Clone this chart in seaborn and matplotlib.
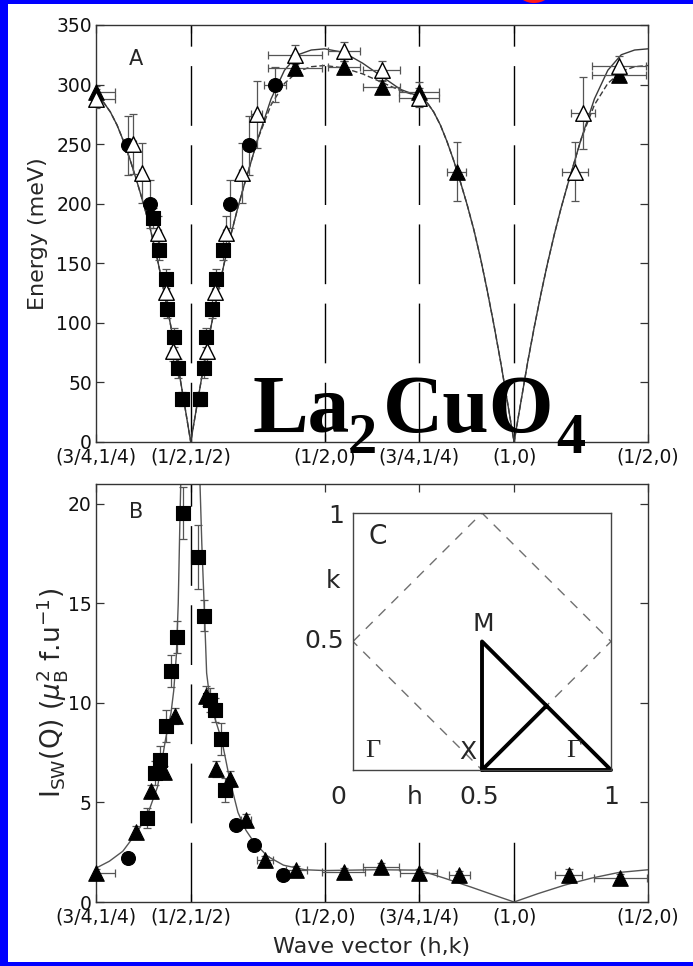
import matplotlib
matplotlib.use("Agg")
import matplotlib.pyplot as plt
import seaborn as sns
from matplotlib.patches import Rectangle, Ellipse

# ---------------- data ----------------
path_ticks = [0.0, 0.3536, 0.8536, 1.2071, 1.5607, 2.0607]
path_labels = ['(3/4,1/4)', '(1/2,1/2)', '(1/2,0)', '(3/4,1/4)', '(1,0)', '(1/2,0)']

# Panel A dispersion curves
curveA_q = [0.0, 0.0286, 0.0536, 0.0786, 0.1036, 0.1286, 0.1536, 0.1786, 0.2036, 0.2286,
            0.2536, 0.2786, 0.3036, 0.3286, 0.3536,
            0.3786, 0.4036, 0.4286, 0.4536, 0.4786, 0.5036, 0.5286, 0.5536, 0.6036, 0.6536,
            0.7036, 0.7536, 0.8036, 0.8536,
            0.9243, 0.995, 1.0657, 1.1364, 1.2071,
            1.2357, 1.2607, 1.2857, 1.3107, 1.3357, 1.3607, 1.3857, 1.4107, 1.4357, 1.4607,
            1.4857, 1.5107, 1.5357, 1.5607,
            1.5857, 1.6107, 1.6357, 1.6607, 1.6857, 1.7107, 1.7357, 1.7607, 1.8107, 1.8607,
            1.9107, 1.9607, 2.0107, 2.0607]
curveA_solid = [290, 285, 277, 266, 252, 236, 218, 199, 178, 154, 127, 98, 67, 34, 0,
                33, 66, 96, 124, 150, 174, 196, 216, 254, 288, 312, 325, 329, 330,
                327, 318, 307, 296, 290,
                285, 277, 266, 252, 236, 218, 199, 178, 154, 127, 98, 67, 34, 0,
                33, 66, 96, 124, 150, 174, 196, 216, 254, 288, 312, 325, 329, 330]
curveA_dashed = [290, 285, 277, 266, 252, 236, 218, 199, 178, 154, 127, 98, 67, 34, 0,
                 33, 66, 96, 124, 150, 174, 196, 216, 254, 283, 301, 311, 315, 316,
                 314, 309, 302, 295, 290,
                 285, 277, 266, 252, 236, 218, 199, 178, 154, 127, 98, 67, 34, 0,
                 33, 66, 96, 124, 150, 174, 196, 216, 254, 283, 301, 311, 315, 316]

# Panel A data
A_tri_open_q = [0.0, 0.139, 0.171, 0.233, 0.261, 0.286, 0.413, 0.444, 0.485, 0.544, 0.600,
                0.743, 0.926, 1.066, 1.206, 1.788, 1.817, 1.953]
A_tri_open_E = [288, 250, 226, 175, 126, 76, 76, 126, 175, 226, 275, 325, 328, 312, 289, 227, 276, 316]
A_tri_open_xerr = [0.07, 0.01, 0.01, 0.01, 0.01, 0.01, 0.01, 0.01, 0.01, 0.01, 0.02,
                   0.1, 0.06, 0.07, 0.075, 0.05, 0.045, 0.1]
A_tri_open_yerr = [8, 25, 25, 15, 10, 8, 8, 10, 15, 25, 28, 8, 8, 8, 8, 25, 30, 8]

A_tri_fill_q = [0.0, 0.743, 0.926, 1.066, 1.206, 1.3465, 1.953]
A_tri_fill_E = [294, 314, 315, 298, 294, 227, 308]
A_tri_fill_xerr = [0.07, 0.1, 0.06, 0.07, 0.075, 0.035, 0.1]
A_tri_fill_yerr = [5, 5, 5, 5, 8, 25, 5]

A_circ_q = [0.121, 0.202, 0.500, 0.572, 0.668]
A_circ_E = [249, 200, 200, 249, 300]
A_circ_xerr = [0.005, 0.005, 0.005, 0.005, 0.04]
A_circ_yerr = [25, 20, 20, 25, 15]

A_sq_q = [0.214, 0.235, 0.260, 0.266, 0.291, 0.307, 0.320, 0.388, 0.404, 0.410, 0.434, 0.448, 0.475]
A_sq_E = [188, 161, 137, 112, 88, 62, 36, 36, 62, 88, 112, 137, 161]
A_sq_yerr = [8, 8, 8, 8, 8, 8, 6, 6, 8, 8, 8, 8, 8]

# Panel B intensity curve (two branches around the divergence)
curveB_left_q = [0.0, 0.05, 0.10, 0.15, 0.19, 0.23, 0.26, 0.28, 0.29, 0.30, 0.307, 0.313, 0.318]
curveB_left_I = [1.7, 2.05, 2.55, 3.45, 4.3, 5.8, 8.2, 9.5, 10.6, 12.4, 15.0, 19.0, 22.0]
curveB_right_q = [0.386, 0.395, 0.405, 0.413, 0.425, 0.44, 0.47, 0.50, 0.53, 0.56, 0.59, 0.64,
                  0.70, 0.78, 0.8536, 0.95, 1.05, 1.2071, 1.30, 1.40, 1.50, 1.5607,
                  1.65, 1.75, 1.85, 1.95, 2.0607]
curveB_right_I = [22.0, 18.0, 14.5, 11.5, 10.2, 9.4, 8.1, 6.1, 4.5, 3.6, 3.0, 2.3,
                  1.85, 1.62, 1.58, 1.6, 1.62, 1.6, 1.2, 0.75, 0.28, 0.0,
                  0.42, 0.85, 1.2, 1.48, 1.62]

B_sq_q = [0.191, 0.222, 0.2375, 0.2617, 0.280, 0.3036, 0.3236, 0.382, 0.4043, 0.424, 0.444, 0.468, 0.4815]
B_sq_I = [4.2, 6.5, 7.12, 8.83, 11.6, 13.3, 19.54, 17.35, 14.39, 10.13, 9.66, 8.21, 5.62]
B_sq_yerr = [0.5, 0.6, 0.7, 0.8, 0.8, 0.8, 1.3, 1.6, 0.8, 0.6, 0.6, 0.8, 0.6]

B_tri_q = [0.0, 0.151, 0.204, 0.255, 0.2934, 0.411, 0.447, 0.500, 0.560, 0.631, 0.748,
           0.924, 1.064, 1.204, 1.357, 1.764, 1.9575]
B_tri_I = [1.47, 3.53, 5.6, 6.53, 9.33, 10.33, 6.7, 6.2, 4.11, 2.1, 1.6,
           1.52, 1.77, 1.44, 1.35, 1.35, 1.19]
B_tri_xerr = [0.07, 0.0, 0.0, 0.0, 0.0, 0.0, 0.0, 0.0, 0.02, 0.03, 0.04,
              0.08, 0.067, 0.07, 0.04, 0.05, 0.1]
B_tri_yerr = [0.2, 0.3, 0.3, 0.3, 0.4, 0.5, 0.4, 0.4, 0.3, 0.2, 0.2, 0.2, 0.2, 0.2, 0.2, 0.3, 0.2]

B_circ_q = [0.1176, 0.524, 0.588, 0.698]
B_circ_I = [2.19, 3.86, 2.86, 1.35]

# Inset C (Brillouin zone)
bz_h = [0.0, 0.5, 1.0, 0.5, 0.0]
bz_k = [0.5, 1.0, 0.5, 0.0, 0.5]
path_h = [0.5, 0.5, 1.0, 0.5, 0.75]
path_k = [0.0, 0.5, 0.0, 0.0, 0.25]

# Formula pieces
formula_main = ["La", "CuO"]
formula_sub = ["2", "4"]

# ---------------- style ----------------
sns.set_style("ticks")
plt.rcParams.update({
    "font.family": ["DejaVu Sans"],
    "mathtext.fontset": "custom",
    "mathtext.rm": "DejaVu Sans",
    "mathtext.it": "DejaVu Sans:italic",
    "axes.edgecolor": "#333333",
    "axes.linewidth": 1.0,
    "xtick.color": "#333333",
    "ytick.color": "#333333",
    "xtick.labelcolor": "#111111",
    "ytick.labelcolor": "#111111",
})

W, H = 693, 966
fig = plt.figure(figsize=(W / 100, H / 100), dpi=100)
fig.patch.set_facecolor("#0000ff")
fig.add_artist(Rectangle((8 / W, 4 / H), 685 / W, 958 / H, transform=fig.transFigure,
                         facecolor="white", edgecolor="none", zorder=-10))
fig.add_artist(Ellipse((534 / W, 1 + 8 / H), 32 / W, 22 / H, transform=fig.transFigure,
                       facecolor="#ff1a1a", edgecolor="none", zorder=5))

def frac(l, t, r, b):
    return [l / W, 1 - b / H, (r - l) / W, (b - t) / H]

axA = fig.add_axes(frac(96, 25, 648, 442))
axB = fig.add_axes(frac(96, 484, 648, 902))
axC = fig.add_axes(frac(353, 513, 611, 770))

vdash = (0, (43, 14))
ebar = dict(fmt="none", ecolor="#555555", elinewidth=0.9, capsize=3, capthick=0.9)

def style_axes(ax, ylim, yticks):
    ax.set_xlim(0, 2.0607)
    ax.set_ylim(*ylim)
    ax.set_xticks(path_ticks)
    ax.set_xticklabels(path_labels)
    ax.set_yticks(yticks)
    ax.tick_params(direction="in", top=True, right=True, length=6, width=0.9,
                   labelsize=13.5, pad=3)
    ax.tick_params(axis="x", pad=4)
    for s in ax.spines.values():
        s.set_visible(True)
        s.set_linewidth(1.0)

# ---------------- panel A ----------------
style_axes(axA, (0, 350), list(range(0, 351, 50)))
for q in path_ticks[1:-1]:
    axA.axvline(q, color="black", lw=1.0, ls=vdash, zorder=1)
sns.lineplot(x=curveA_q, y=curveA_solid, ax=axA, sort=False, estimator=None,
             color="#3a3a3a", lw=1.0, zorder=2)
sns.lineplot(x=curveA_q, y=curveA_dashed, ax=axA, sort=False, estimator=None,
             color="#3a3a3a", lw=1.0, ls=(0, (4, 2)), zorder=2)
axA.errorbar(A_tri_open_q, A_tri_open_E, xerr=A_tri_open_xerr, yerr=A_tri_open_yerr, zorder=3, **ebar)
axA.errorbar(A_tri_fill_q, A_tri_fill_E, xerr=A_tri_fill_xerr, yerr=A_tri_fill_yerr, zorder=3, **ebar)
axA.errorbar(A_circ_q, A_circ_E, xerr=A_circ_xerr, yerr=A_circ_yerr, zorder=3, **ebar)
axA.errorbar(A_sq_q, A_sq_E, yerr=A_sq_yerr, zorder=3, **ebar)
sns.scatterplot(x=A_circ_q, y=A_circ_E, ax=axA, marker="o", s=100, color="black",
                edgecolor="black", linewidth=0.8, zorder=4, clip_on=False)
sns.scatterplot(x=A_sq_q, y=A_sq_E, ax=axA, marker="s", s=88, color="black",
                edgecolor="black", linewidth=0.8, zorder=4, clip_on=False)
sns.scatterplot(x=A_tri_fill_q, y=A_tri_fill_E, ax=axA, marker="^", s=125, color="black",
                edgecolor="black", linewidth=0.8, zorder=4, clip_on=False)
sns.scatterplot(x=A_tri_open_q, y=A_tri_open_E, ax=axA, marker="^", s=125, color="white",
                edgecolor="black", linewidth=1.0, zorder=5, clip_on=False)
axA.set_ylabel("Energy (meV)", fontsize=16, va="center")
axA.yaxis.set_label_coords(-0.105, 0.5)
axA.set_xlabel("")
axA.text(0.073, 0.918, "A", transform=axA.transAxes, fontsize=15, ha="center", va="center")

# ---------------- panel B ----------------
style_axes(axB, (0, 21), [0, 5, 10, 15, 20])
axB.axvline(path_ticks[1], color="black", lw=1.0, ls=vdash, zorder=1)
for q in path_ticks[2:-1]:
    axB.axvline(q, ymin=0, ymax=0.148, color="black", lw=1.0, ls=vdash, zorder=1)
sns.lineplot(x=curveB_left_q, y=curveB_left_I, ax=axB, sort=False, estimator=None,
             color="#555555", lw=1.0, zorder=2)
sns.lineplot(x=curveB_right_q, y=curveB_right_I, ax=axB, sort=False, estimator=None,
             color="#555555", lw=1.0, zorder=2)
axB.errorbar(B_sq_q, B_sq_I, yerr=B_sq_yerr, zorder=3, **ebar)
axB.errorbar(B_tri_q, B_tri_I, xerr=B_tri_xerr, yerr=B_tri_yerr, zorder=3, **ebar)
sns.scatterplot(x=B_sq_q, y=B_sq_I, ax=axB, marker="s", s=88, color="black",
                edgecolor="black", linewidth=0.8, zorder=4, clip_on=False)
sns.scatterplot(x=B_tri_q, y=B_tri_I, ax=axB, marker="^", s=125, color="black",
                edgecolor="black", linewidth=0.8, zorder=4, clip_on=False)
sns.scatterplot(x=B_circ_q, y=B_circ_I, ax=axB, marker="o", s=100, color="black",
                edgecolor="black", linewidth=0.8, zorder=4, clip_on=False)
axB.set_ylabel(r"I$_{\mathregular{SW}}$(Q) ($\mu_{\mathregular{B}}^{\mathregular{2}}$ f.u$^{\mathregular{-1}}$)",
               fontsize=19, va="center")
axB.yaxis.set_label_coords(-0.08, 0.5)
axB.set_xlabel("Wave vector (h,k)", fontsize=16, va="center")
axB.xaxis.set_label_coords(0.5, -0.108)
axB.text(0.072, 0.934, "B", transform=axB.transAxes, fontsize=15, ha="center", va="center")

# ---------------- inset C ----------------
axC.set_facecolor("white")
axC.set_xlim(0, 1)
axC.set_ylim(0, 1)
axC.set_xticks([])
axC.set_yticks([])
for s in axC.spines.values():
    s.set_visible(True)
    s.set_linewidth(1.0)
    s.set_color("#444444")
sns.lineplot(x=bz_h, y=bz_k, ax=axC, sort=False, estimator=None, color="#707070",
             lw=1.0, ls=(0, (7, 6)))
sns.lineplot(x=path_h, y=path_k, ax=axC, sort=False, estimator=None, color="black",
             lw=2.8, clip_on=False)
axC.set_xlabel("")
axC.set_ylabel("")
tk = dict(fontsize=18, va="center", transform=axC.transData, clip_on=False)
axC.text(0.095, 0.905, "C", ha="center", fontsize=19, va="center")
axC.text(0.505, 0.568, "M", ha="center", fontsize=18, va="center")
axC.text(0.444, 0.07, "X", ha="center", fontsize=18, va="center")
axC.text(0.076, 0.075, "\u0393", ha="center", fontsize=19, va="center", family="Liberation Serif")
axC.text(0.857, 0.075, "\u0393", ha="center", fontsize=19, va="center", family="Liberation Serif")
axC.text(-0.035, 0.99, "1", ha="right", **tk)
axC.text(-0.035, 0.50, "0.5", ha="right", **tk)
axC.text(-0.079, 0.735, "k", ha="center", **tk)
axC.text(-0.058, -0.105, "0", ha="center", **tk)
axC.text(0.24, -0.105, "h", ha="center", **tk)
axC.text(0.488, -0.105, "0.5", ha="center", **tk)
axC.text(1.0, -0.105, "1", ha="center", **tk)

# ---------------- big formula ----------------
ft = dict(family="Liberation Serif", weight="bold", color="black", ha="left",
          va="baseline", zorder=20)
fig.text(253 / W, 1 - 432 / H, formula_main[0], fontsize=60, **ft)
fig.text(348 / W, 1 - 453 / H, formula_sub[0], fontsize=42, **ft)
fig.text(383 / W, 1 - 432 / H, formula_main[1], fontsize=60, **ft)
fig.text(556 / W, 1 - 453 / H, formula_sub[1], fontsize=42, **ft)

fig.savefig("out.png", dpi=100, facecolor=fig.get_facecolor())
